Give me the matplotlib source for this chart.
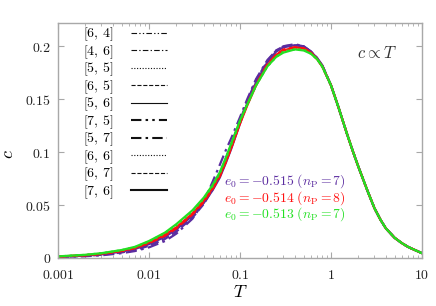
import matplotlib
matplotlib.use("Agg")
import matplotlib.pyplot as plt
from matplotlib.lines import Line2D
from matplotlib.ticker import FixedLocator, FixedFormatter, LogLocator, NullFormatter

plt.rcParams['mathtext.fontset'] = 'cm'
plt.rcParams['font.family'] = ['DejaVu Serif']

# ---- data ----
T = [0.001, 0.002, 0.003, 0.005, 0.007, 0.01, 0.015, 0.02, 0.03, 0.04, 0.05,
     0.06, 0.07, 0.08, 0.1, 0.12, 0.15, 0.2, 0.25, 0.3, 0.4, 0.5, 0.6, 0.7,
     0.8, 1.0, 1.2, 1.5, 1.75, 2.0, 2.5, 3.0, 3.5, 4.0, 5.0, 6.0, 7.0, 8.0, 10.0]

high_T_tail = [0.163, 0.143, 0.117, 0.100, 0.086, 0.064, 0.047, 0.036, 0.028,
               0.019, 0.0140, 0.0105, 0.0082, 0.0045]

c_green_a = [0.0015, 0.003, 0.0045, 0.0075, 0.0105, 0.016, 0.024, 0.032, 0.045,
             0.057, 0.069, 0.081, 0.095, 0.108, 0.130, 0.145, 0.163, 0.181,
             0.190, 0.194, 0.197, 0.196, 0.193, 0.188, 0.181] + high_T_tail
c_green_b = [0.0014, 0.0029, 0.0044, 0.0073, 0.0102, 0.0155, 0.0235, 0.031, 0.044,
             0.056, 0.068, 0.080, 0.094, 0.107, 0.129, 0.145, 0.163, 0.181,
             0.190, 0.195, 0.197, 0.197, 0.193, 0.188, 0.181] + high_T_tail
c_red_a = [0.0013, 0.0027, 0.004, 0.0068, 0.0095, 0.0145, 0.022, 0.029, 0.042,
           0.054, 0.066, 0.078, 0.091, 0.104, 0.127, 0.144, 0.163, 0.182,
           0.192, 0.196, 0.199, 0.198, 0.194, 0.188, 0.181] + high_T_tail
c_red_b = [0.0012, 0.0025, 0.0038, 0.0065, 0.0092, 0.014, 0.021, 0.028, 0.041,
           0.053, 0.065, 0.077, 0.091, 0.104, 0.128, 0.145, 0.164, 0.183,
           0.192, 0.197, 0.199, 0.198, 0.194, 0.188, 0.181] + high_T_tail
c_purple_a = [0.001, 0.0022, 0.0034, 0.006, 0.0085, 0.013, 0.020, 0.027, 0.040,
              0.052, 0.064, 0.076, 0.090, 0.103, 0.127, 0.146, 0.166, 0.185,
              0.195, 0.199, 0.201, 0.200, 0.195, 0.189, 0.182] + high_T_tail
c_purple_b = [0.0008, 0.0016, 0.0025, 0.0045, 0.0065, 0.010, 0.016, 0.023, 0.037,
              0.053, 0.072, 0.088, 0.102, 0.113, 0.133, 0.150, 0.169, 0.187,
              0.196, 0.200, 0.202, 0.200, 0.195, 0.189, 0.182] + high_T_tail
c_purple_c = [0.0009, 0.0019, 0.003, 0.0052, 0.0075, 0.0115, 0.018, 0.025, 0.038,
              0.051, 0.065, 0.079, 0.094, 0.107, 0.130, 0.148, 0.168, 0.186,
              0.196, 0.200, 0.201, 0.200, 0.195, 0.189, 0.182] + high_T_tail

legend_labels = ['[6,4]', '[4,6]', '[5,5]', '[6,5]', '[5,6]',
                 '[7,5]', '[5,7]', '[6,6]', '[6,7]', '[7,6]']

series_labels = [r'$e_0=-0.515\ (n_{\rm P}=7)$',
                 r'$e_0=-0.514\ (n_{\rm P}=8)$',
                 r'$e_0=-0.513\ (n_{\rm P}=7)$']

xticks = [0.001, 0.01, 0.1, 1, 10]
xtick_labels = ['0.001', '0.01', '0.1', '1', '10']
yticks = [0, 0.05, 0.1, 0.15, 0.2]
ytick_labels = ['0', '0.05', '0.1', '0.15', '0.2']

# ---- styles ----
purple = '#5b2ca0'
red = '#ff1010'
green = '#22e022'
dd = (0, (5, 2, 1.2, 2, 1.2, 2))
ddot = (0, (5, 2, 1.2, 2))
dots = (0, (1, 1.5))
styles = [(dd, 0.8), (ddot, 0.8), (dots, 0.8), ('--', 0.8), ('-', 0.8),
          (dd, 1.5), (ddot, 1.5), (dots, 0.8), ('--', 0.8), ('-', 1.5)]

fig = plt.figure(figsize=(4.36, 3.06), dpi=100)
ax = fig.add_axes([0.133, 0.157, 0.835, 0.768])

lw = 1.6
ax.plot(T, c_purple_b, color=purple, lw=lw, ls=ddot)
ax.plot(T, c_purple_c, color=purple, lw=lw, ls='--')
ax.plot(T, c_purple_a, color=purple, lw=lw)
ax.plot(T, c_red_b, color=red, lw=lw, ls='--')
ax.plot(T, c_red_a, color=red, lw=lw)
ax.plot(T, c_green_b, color=green, lw=lw, ls=':')
ax.plot(T, c_green_a, color=green, lw=lw)

ax.set_xscale('log')
ax.set_xlim(0.001, 10)
ax.set_ylim(0, 0.222)

ax.xaxis.set_major_locator(FixedLocator(xticks))
ax.xaxis.set_major_formatter(FixedFormatter(['$%s$' % s for s in xtick_labels]))
ax.xaxis.set_minor_locator(LogLocator(base=10, subs=range(2, 10)))
ax.xaxis.set_minor_formatter(NullFormatter())
ax.yaxis.set_major_locator(FixedLocator(yticks))
ax.yaxis.set_major_formatter(FixedFormatter(['$%s$' % s for s in ytick_labels]))

spine_col = '#a8a8a8'
for s in ax.spines.values():
    s.set_color(spine_col)
    s.set_linewidth(1.0)
ax.tick_params(which='both', direction='in', top=True, right=True,
               color=spine_col, labelsize=10, labelcolor='#222222')
ax.tick_params(axis='x', which='major', length=4, pad=7)
ax.tick_params(axis='y', which='major', length=4, pad=5)
ax.tick_params(which='minor', length=2)

ax.set_xlabel('$T$', fontsize=13)
ax.xaxis.set_label_coords(0.5, -0.105)
ax.set_ylabel('$c$', fontsize=13)
ax.yaxis.set_label_coords(-0.113, 0.44)

handles = [Line2D([], [], color='#111111', ls=st, lw=w) for st, w in styles]
leg = ax.legend(handles, ['$%s$' % l.replace(',', ',\\,') for l in legend_labels],
                loc='upper left', bbox_to_anchor=(0.041, 1.03), frameon=False,
                fontsize=10, handlelength=2.6, handletextpad=1.3,
                labelspacing=0.0, markerfirst=False, borderpad=0.2)

ax.text(0.93, 0.87, r'$c \propto T$', transform=ax.transAxes, fontsize=12,
        ha='right', va='center', color='#333333')

for i, (lab, col) in enumerate(zip(series_labels, [purple, red, green])):
    ax.text(0.455, 0.325 - i * 0.069, lab, transform=ax.transAxes,
            fontsize=9.8, color=col, ha='left', va='center')

fig.savefig('out.png', dpi=100)
